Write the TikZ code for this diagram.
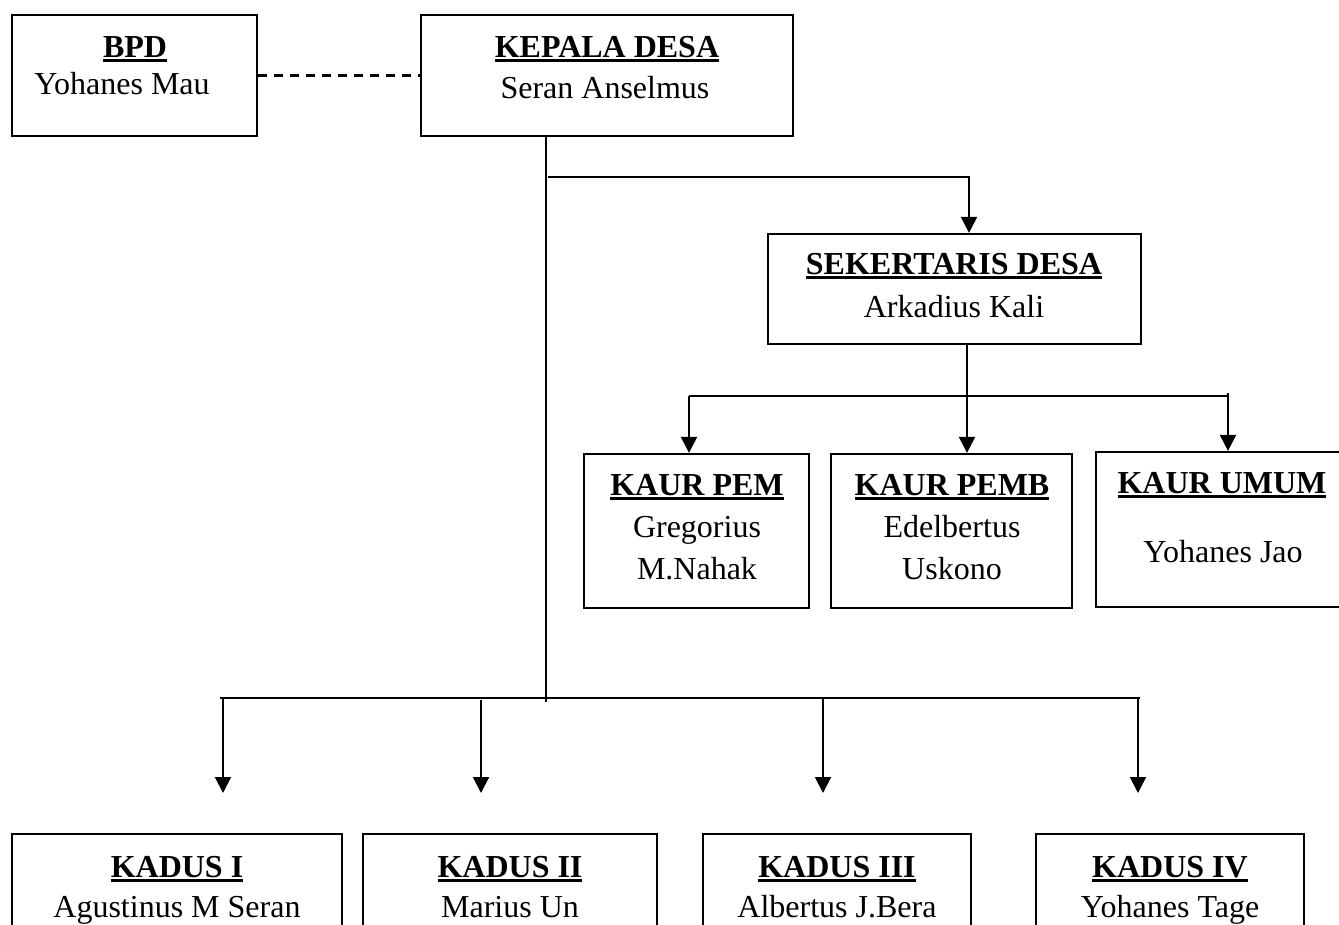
\documentclass[tikz,border=0pt]{standalone}
\usepackage{fontspec}
\setmainfont{Liberation Serif}
\usetikzlibrary{arrows.meta}
\newsavebox\ttlbox
\newcommand{\ttl}[1]{\sbox\ttlbox{\bfseries #1}\rlap{\rule[-4.5pt]{\wd\ttlbox}{3pt}}\usebox\ttlbox}
\tikzset{
  orgbox/.style={draw, line width=2.2pt, inner sep=0pt, minimum width=#1},
  txt/.style={anchor=base, inner sep=0pt, font=\fontsize{32}{38}\selectfont},
  conn/.style={line width=2pt},
  arr/.style={line width=2pt, -{Triangle[length=16pt,width=16pt]}},
}
\begin{document}
\begin{tikzpicture}[x=1pt,y=-1pt]
\useasboundingbox (0,0) rectangle (1339,924);
\clip (0,0) rectangle (1339,924);
% boxes
\node[orgbox=245pt, minimum height=121pt] (bpd) at (134.5,75.5) {};
\node[orgbox=372pt, minimum height=121pt] (kades) at (607,75.5) {};
\node[orgbox=373pt, minimum height=110pt] (sekdes) at (954.5,289) {};
\node[orgbox=225pt, minimum height=154pt] (kaurpem) at (696.5,531) {};
\node[orgbox=241pt, minimum height=154pt] (kaurpemb) at (951.5,531) {};
\node[orgbox=252pt, minimum height=155pt] (kaurumum) at (1222,529.5) {};
\node[orgbox=330pt, minimum height=130pt] (kadus1) at (177,899) {};
\node[orgbox=294pt, minimum height=130pt] (kadus2) at (510,899) {};
\node[orgbox=268pt, minimum height=130pt] (kadus3) at (837,899) {};
\node[orgbox=268pt, minimum height=130pt] (kadus4) at (1170,899) {};
% texts
\node[txt] (bpdT) at (135,57) {\ttl{BPD}};
\node[txt] (bpdN) at (122,94) {Yohanes Mau};
\node[txt] (kadesT) at (607,57) {\ttl{KEPALA DESA}};
\node[txt] (kadesN) at (605,98) {Seran Anselmus};
\node[txt] (sekdesT) at (954,274) {\ttl{SEKERTARIS DESA}};
\node[txt] (sekdesN) at (954,317) {Arkadius Kali};
\node[txt] (kpT) at (697,495) {\ttl{KAUR PEM}};
\node[txt] (kpN1) at (697,537) {Gregorius};
\node[txt] (kpN2) at (697,579) {M.Nahak};
\node[txt] (kpbT) at (952,495) {\ttl{KAUR PEMB}};
\node[txt] (kpbN1) at (952,537) {Edelbertus};
\node[txt] (kpbN2) at (952,579) {Uskono};
\node[txt] (kuT) at (1222,493) {\ttl{KAUR UMUM}};
\node[txt] (kuN) at (1223,562) {Yohanes Jao};
\node[txt] (k1T) at (177,877) {\ttl{KADUS I}};
\node[txt] (k1N) at (177,917) {Agustinus M Seran};
\node[txt] (k2T) at (510,877) {\ttl{KADUS II}};
\node[txt] (k2N) at (510,917) {Marius Un};
\node[txt] (k3T) at (837,877) {\ttl{KADUS III}};
\node[txt] (k3N) at (837,917) {Albertus J.Bera};
\node[txt] (k4T) at (1170,877) {\ttl{KADUS IV}};
\node[txt] (k4N) at (1170,917) {Yohanes Tage};
% junction coordinates
\coordinate (trunk) at (546,702);
\coordinate (br) at (548,177);
\coordinate (sa) at (969,177);
\coordinate (sv) at (967,396);
\coordinate (hl) at (689,396);
\coordinate (hr) at (1228,396);
\coordinate (bl) at (220,698);
\coordinate (bR) at (1140,698);
\coordinate (a1) at (223,698);
\coordinate (a2) at (481,700);
\coordinate (a3) at (823,698);
\coordinate (a4) at (1138,698);
\coordinate (e1) at (223,793);
\coordinate (e2) at (481,793);
\coordinate (e3) at (823,793);
\coordinate (e4) at (1138,793);
% connectors
\draw[line width=2.5pt, dash pattern=on 9pt off 7pt] (bpd.east) -- (kades.west);
\draw[conn] (kades.south -| trunk) -- (trunk);
\draw[arr] (br) -- (sa) -- (sa |- sekdes.north);
\draw[arr] (sekdes.south -| sv) -- (kaurpemb.north -| sv);
\draw[conn] (hl) -- (hr);
\draw[arr] (hl) -- (kaurpem.north -| hl);
\draw[arr] ([yshift=3pt]hr) -- (kaurumum.north -| hr);
\draw[conn] (bl) -- (bR);
\draw[arr] (a1) -- (e1);
\draw[arr] (a2) -- (e2);
\draw[arr] (a3) -- (e3);
\draw[arr] (a4) -- (e4);
\end{tikzpicture}
\end{document}
